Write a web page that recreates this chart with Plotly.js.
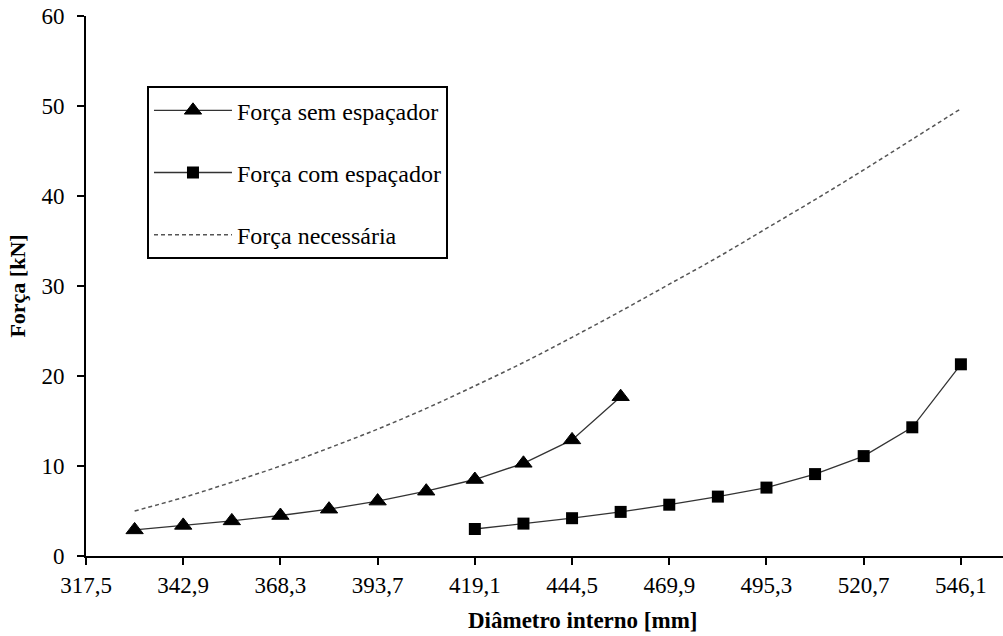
<!DOCTYPE html>
<html>
<head>
<meta charset="utf-8">
<script src="https://cdn.plot.ly/plotly-3.0.1.min.js"></script>
<style>html,body{margin:0;padding:0;background:#fff;}#chart{width:1003px;height:636px;}</style>
</head>
<body>
<div id="chart"></div>
<script>
// Data
const diamSem = [330.2, 342.9, 355.6, 368.3, 381.0, 393.7, 406.4, 419.1, 431.8, 444.5, 457.2];
const forcaSem = [2.9, 3.4, 3.9, 4.5, 5.2, 6.1, 7.2, 8.5, 10.3, 12.9, 17.7];

const diamCom = [419.1, 431.8, 444.5, 457.2, 469.9, 482.6, 495.3, 508.0, 520.7, 533.4, 546.1];
const forcaCom = [3.0, 3.6, 4.2, 4.9, 5.7, 6.6, 7.6, 9.1, 11.1, 14.3, 21.3];

const diamNec = [330.2, 342.9, 355.6, 368.3, 381.0, 393.7, 406.4, 419.1, 431.8, 444.5, 457.2, 469.9, 482.6, 495.3, 508.0, 520.7, 533.4, 546.1];
const forcaNec = [5.0, 6.5, 8.2, 10.0, 12.0, 14.1, 16.4, 18.9, 21.5, 24.3, 27.2, 30.2, 33.2, 36.4, 39.6, 42.9, 46.3, 49.7];

const xTickVals = [317.5, 342.9, 368.3, 393.7, 419.1, 444.5, 469.9, 495.3, 520.7, 546.1];
const xTickText = ["317,5", "342,9", "368,3", "393,7", "419,1", "444,5", "469,9", "495,3", "520,7", "546,1"];
const yTickVals = [0, 10, 20, 30, 40, 50, 60];

const seriesNames = ["Força sem espaçador", "Força com espaçador", "Força necessária"];
const xTitle = "Diâmetro interno [mm]";
const yTitle = "Força [kN]";

const FONT = "'Liberation Serif', 'Times New Roman', serif";

const traces = [
  {
    x: diamSem, y: forcaSem, name: seriesNames[0], legendgroup: "a",
    type: "scatter", mode: "lines+markers",
    line: {color: "#333", width: 1.3},
    marker: {symbol: "triangle-up", size: 15, color: "#000", line: {color: "#000", width: 1}}
  },
  {
    x: diamCom, y: forcaCom, name: seriesNames[1], legendgroup: "b",
    type: "scatter", mode: "lines+markers",
    line: {color: "#333", width: 1.3},
    marker: {symbol: "square", size: 12, color: "#000"}
  },
  {
    x: diamNec, y: forcaNec, name: seriesNames[2], legendgroup: "c",
    type: "scatter", mode: "lines", line: {shape: "spline", color: "#555", width: 1.5, dash: "4px,3px"}
  }
];

const layout = {
  width: 1003, height: 636,
  margin: {l: 86, r: 0, t: 16, b: 80},
  paper_bgcolor: "#fff", plot_bgcolor: "#fff",
  font: {family: FONT, size: 23, color: "#000"},
  showlegend: true,
  legend: {
    x: 0.0665, y: 0.870, xanchor: "left", yanchor: "top",
    bordercolor: "#000", borderwidth: 2, bgcolor: "#fff",
    font: {family: FONT, size: 24, color: "#000"},
    tracegroupgap: 28, itemwidth: 78
  },
  xaxis: {
    range: [317.5, 557.1],
    tickvals: xTickVals, ticktext: xTickText,
    showgrid: false, zeroline: false,
    showline: true, linecolor: "#000", linewidth: 2,
    ticks: "outside", ticklen: 7, tickwidth: 2, tickcolor: "#000",
    tickfont: {family: FONT, size: 23, color: "#000"},
    fixedrange: true
  },
  yaxis: {
    range: [0, 60],
    tickvals: yTickVals,
    showgrid: false, zeroline: false,
    showline: true, linecolor: "#000", linewidth: 2,
    ticks: "outside", ticklen: 7, tickwidth: 2, tickcolor: "#000",
    tickfont: {family: FONT, size: 23, color: "#000"},
    ticklabelstandoff: 8,
    title: {text: "<b>" + yTitle + "</b>", font: {family: FONT, size: 22, color: "#000"}, standoff: 10},
    fixedrange: true
  },
  annotations: [
    {text: "<b>" + xTitle + "</b>", xref: "paper", yref: "paper",
     x: (583 - 86) / 917, y: -0.12, xanchor: "center", yanchor: "middle",
     showarrow: false, font: {family: FONT, size: 23, color: "#000"}}
  ]
};

Plotly.newPlot("chart", traces, layout, {displayModeBar: false, staticPlot: true});
</script>
</body>
</html>
